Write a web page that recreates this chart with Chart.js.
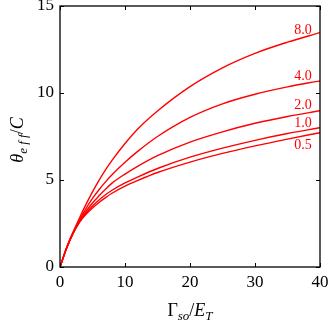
<!DOCTYPE html>
<html>
<head>
<meta charset="utf-8">
<script src="https://cdn.jsdelivr.net/npm/chart.js@4.4.1/dist/chart.umd.min.js"></script>
<style>
  html, body { margin: 0; padding: 0; background: #fff; }
  #wrap { width: 328px; height: 327px; position: relative; }
</style>
</head>
<body>
<div id="wrap"><canvas id="c"></canvas></div>
<script>
'use strict';

// x values (Gamma_so / E_T)
const XS = [0, 1, 2, 3, 4, 5, 6, 7, 8, 10, 12, 15, 20, 25, 30, 35, 40];

// theta_eff / C for each curve
const S_80 = [0, 1.1, 2.0, 2.82, 3.6, 4.32, 4.98, 5.58, 6.13, 7.1, 7.95, 8.97, 10.37, 11.45, 12.28, 12.92, 13.47];
const S_40 = [0, 1.08, 1.96, 2.7, 3.36, 3.94, 4.44, 4.89, 5.3, 6.02, 6.66, 7.5, 8.6, 9.38, 9.93, 10.35, 10.7];
const S_20 = [0, 1.07, 1.94, 2.64, 3.2, 3.68, 4.09, 4.47, 4.82, 5.34, 5.8, 6.4, 7.18, 7.77, 8.26, 8.65, 8.98];
const S_10 = [0, 1.07, 1.93, 2.6, 3.1, 3.5, 3.85, 4.15, 4.41, 4.83, 5.18, 5.66, 6.31, 6.83, 7.28, 7.67, 8.0];
const S_05 = [0, 1.07, 1.92, 2.57, 3.03, 3.39, 3.71, 3.99, 4.24, 4.65, 4.98, 5.43, 6.03, 6.53, 6.96, 7.35, 7.72];

const SERIES = [S_80, S_40, S_20, S_10, S_05];
const CURVE_LABELS = ['8.0', '4.0', '2.0', '1.0', '0.5'];

const X_TICKS = [0, 10, 20, 30, 40];
const Y_TICKS = [0, 5, 10, 15];

const RED   = '#ff0000';
const INK   = '#000000';
const SERIF = '"Liberation Serif", "DejaVu Serif", serif';

// frame with inward ticks on all four sides
const framePlugin = {
    id: 'frame',
    afterDatasetsDraw(chart) {
        const ctx = chart.ctx;
        const { left, right, top, bottom } = chart.chartArea;
        const xs = chart.scales.x, ys = chart.scales.y;
        const T = 4;
        ctx.save();
        ctx.strokeStyle = INK;
        ctx.lineWidth = 1.3;
        ctx.strokeRect(left, top, right - left, bottom - top);
        ctx.lineWidth = 1;
        ctx.beginPath();
        X_TICKS.forEach(v => {
            const px = Math.round(xs.getPixelForValue(v)) + 0.5;
            ctx.moveTo(px, bottom); ctx.lineTo(px, bottom - T);
            ctx.moveTo(px, top);    ctx.lineTo(px, top + T);
        });
        Y_TICKS.forEach(v => {
            const py = Math.round(ys.getPixelForValue(v)) + 0.5;
            ctx.moveTo(left, py);  ctx.lineTo(left + T, py);
            ctx.moveTo(right, py); ctx.lineTo(right - T, py);
        });
        ctx.stroke();
        ctx.restore();
    }
};

// curve labels near the right end, titles with sub-scripts
const textPlugin = {
    id: 'texts',
    afterDraw(chart) {
        const ctx = chart.ctx;
        const xs = chart.scales.x, ys = chart.scales.y;
        const xLab = 37.4;
        const offs = [-7, -8, -8, -7, 9];
        ctx.save();
        ctx.fillStyle = RED;
        ctx.font = '14px ' + SERIF;
        ctx.textAlign = 'center';
        ctx.textBaseline = 'middle';
        SERIES.forEach((s, i) => {
            const n = XS.length;
            const t = (xLab - XS[n - 2]) / (XS[n - 1] - XS[n - 2]);
            const yv = s[n - 2] + t * (s[n - 1] - s[n - 2]);
            ctx.fillText(CURVE_LABELS[i], xs.getPixelForValue(xLab), ys.getPixelForValue(yv) + offs[i]);
        });

        // x title: Γ_so / E_T
        ctx.fillStyle = INK;
        ctx.textAlign = 'left';
        ctx.textBaseline = 'alphabetic';
        const parts = [
            { t: 'Γ', f: '18px ' + SERIF, dy: 0 },
            { t: 'so', f: 'italic 13px ' + SERIF, dy: 4 },
            { t: '/', f: '18px ' + SERIF, dy: 0 },
            { t: 'E', f: 'italic 18px ' + SERIF, dy: 0 },
            { t: 'T', f: 'italic 13px ' + SERIF, dy: 4 }
        ];
        let w = 0;
        parts.forEach(p => { ctx.font = p.f; w += ctx.measureText(p.t).width; });
        let x = 190 - w / 2;
        const base = 316;
        parts.forEach(p => {
            ctx.font = p.f;
            ctx.fillText(p.t, x, base + p.dy);
            x += ctx.measureText(p.t).width;
        });

        // y title: θ_eff / C, rotated
        ctx.translate(23, 140);
        ctx.rotate(-Math.PI / 2);
        const yparts = [
            { t: 'θ', f: 'italic 18px ' + SERIF, dy: 0 },
            { t: 'e f f', f: 'italic 13px ' + SERIF, dy: 4 },
            { t: '/', f: '18px ' + SERIF, dy: 0 },
            { t: 'C', f: 'italic 18px ' + SERIF, dy: 0 }
        ];
        w = 0;
        yparts.forEach(p => { ctx.font = p.f; w += ctx.measureText(p.t).width; });
        x = -w / 2;
        yparts.forEach(p => {
            ctx.font = p.f;
            ctx.fillText(p.t, x, p.dy);
            x += ctx.measureText(p.t).width;
        });
        ctx.restore();
    }
};

const datasets = SERIES.map((s, i) => ({
    label: CURVE_LABELS[i],
    data: XS.map((x, j) => ({ x, y: s[j] })),
    borderColor: RED,
    borderWidth: 1.4,
    pointRadius: 0,
    fill: false,
    cubicInterpolationMode: 'monotone'
}));

new Chart(document.getElementById('c'), {
    type: 'line',
    data: { datasets },
    plugins: [framePlugin, textPlugin],
    options: {
        responsive: true,
        maintainAspectRatio: false,
        animation: false,
        devicePixelRatio: 1,
        layout: { padding: { left: 0, right: 8, top: 6, bottom: 0 } },
        plugins: { legend: { display: false }, tooltip: { enabled: false } },
        scales: {
            x: {
                type: 'linear', min: 0, max: 40,
                afterBuildTicks: (s) => { s.ticks = X_TICKS.map(v => ({ value: v })); },
                afterFit: (s) => { s.height = 60; s.paddingLeft = 0; s.paddingRight = 0; },
                grid: { display: false, drawTicks: false },
                border: { display: false },
                ticks: { color: INK, padding: 5, maxRotation: 0, font: { family: SERIF, size: 17 } }
            },
            y: {
                type: 'linear', min: 0, max: 15,
                afterBuildTicks: (s) => { s.ticks = Y_TICKS.map(v => ({ value: v })); },
                afterFit: (s) => { s.width = 60; s.paddingTop = 0; s.paddingBottom = 0; },
                grid: { display: false, drawTicks: false },
                border: { display: false },
                ticks: { color: INK, padding: 6, font: { family: SERIF, size: 17 } }
            }
        }
    }
});
</script>
</body>
</html>
